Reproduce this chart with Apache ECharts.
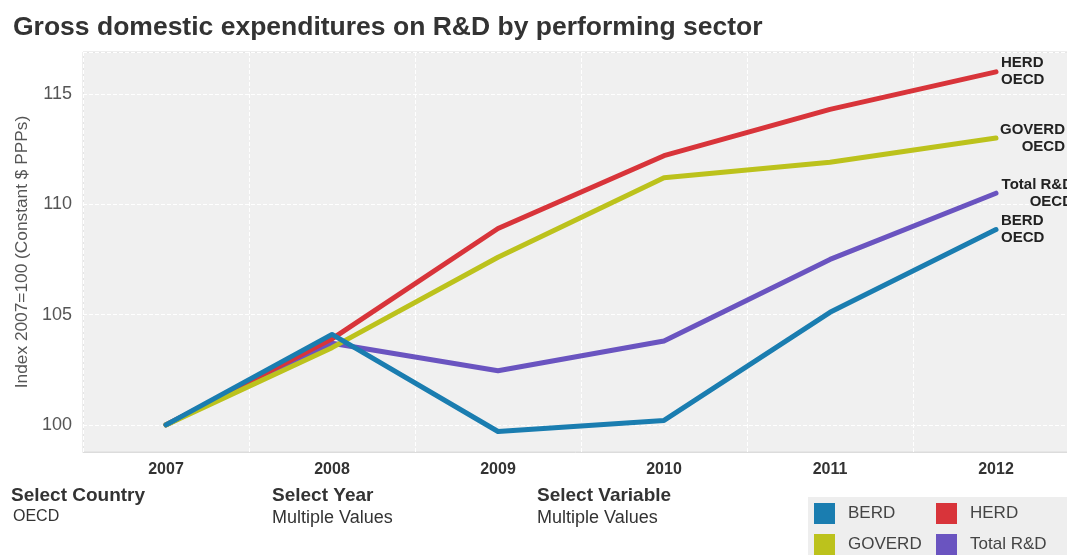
<!DOCTYPE html>
<html>
<head>
<meta charset="utf-8">
<script src="https://cdn.jsdelivr.net/npm/echarts@6/dist/echarts.min.js"></script>
<style>
html,body{margin:0;padding:0;background:#fff;}
#chart{width:1067px;height:555px;}
</style>
</head>
<body>
<div id="chart"></div>
<script>
const years = ['2007', '2008', '2009', '2010', '2011', '2012'];
const berd = [100, 104.1, 99.7, 100.2, 105.1, 108.85];
const herd = [100, 103.9, 108.9, 112.2, 114.3, 116.0];
const goverd = [100, 103.5, 107.6, 111.2, 111.9, 113.0];
const totalRD = [100, 103.7, 102.45, 103.8, 107.5, 110.5];
const yTicks = [100, 105, 110, 115];
const legendCol1 = ['BERD', 'GOVERD'];
const legendCol2 = ['HERD', 'Total R&D'];

const colors = {
  BERD: '#1a7db0',
  HERD: '#d8343a',
  GOVERD: '#bcc21c',
  'Total R&D': '#6a54c0'
};

const chart = echarts.init(document.getElementById('chart'));
const FONT = 'Liberation Sans, Arial, sans-serif';

function lineSeries(name, data, endText, align, offset) {
  return {
    name: name,
    type: 'line',
    data: data,
    showSymbol: false,
    symbol: 'none',
    lineStyle: { width: 5, color: colors[name], cap: 'round', join: 'round' },
    itemStyle: { color: colors[name] },
    emphasis: { disabled: true },
    endLabel: {
      show: true,
      formatter: endText,
      fontFamily: FONT,
      fontSize: 15,
      fontWeight: 'bold',
      color: '#222',
      lineHeight: 17,
      align: align,
      distance: 5,
      offset: offset
    }
  };
}

function legendCol(left, names) {
  return {
    left: left, top: 497,
    orient: 'vertical',
    padding: [6, 0, 0, 0],
    itemWidth: 21, itemHeight: 21, itemGap: 10,
    icon: 'rect',
    data: names,
    textStyle: { fontFamily: FONT, fontSize: 17, color: '#444', padding: [0, 0, 0, 8] }
  };
}

chart.setOption({
  backgroundColor: '#ffffff',
  animation: false,
  color: [colors['Total R&D'], colors.HERD, colors.GOVERD, colors.BERD],
  title: {
    text: 'Gross domestic expenditures on R&D by performing sector',
    left: 8,
    top: 9,
    textStyle: { fontFamily: FONT, fontSize: 26.5, fontWeight: 'bold', color: '#333' }
  },
  grid: {
    left: 83, top: 52, width: 996, height: 400,
    outerBoundsMode: 'none',
    containLabel: false,
    show: true, backgroundColor: '#f0f0f0', borderColor: '#dcdcdc', borderWidth: 1
  },
  legend: [legendCol(814, legendCol1), legendCol(936, legendCol2)],
  xAxis: {
    type: 'category',
    data: years,
    boundaryGap: true,
    axisLine: { show: true, lineStyle: { color: '#dcdcdc', width: 1 } },
    axisTick: { show: false },
    axisLabel: { fontFamily: FONT, fontSize: 16, fontWeight: 'bold', color: '#333', margin: 10 },
    splitLine: { show: true, lineStyle: { color: '#ffffff', type: 'dashed', width: 1 } }
  },
  yAxis: {
    type: 'value',
    min: 98.77,
    max: 116.9,
    splitNumber: 4,
    name: 'Index 2007=100 (Constant $ PPPs)',
    nameLocation: 'middle',
    nameGap: 43,
    nameTextStyle: { fontFamily: FONT, fontSize: 17.3, color: '#555' },
    axisLine: { show: false },
    axisTick: { show: false },
    axisLabel: {
      fontFamily: FONT, fontSize: 18, color: '#555', margin: 11,
      showMinLabel: false, showMaxLabel: false,
      formatter: function (v) { return yTicks.indexOf(v) >= 0 ? String(v) : ''; }
    },
    splitLine: { show: true, lineStyle: { color: '#ffffff', type: 'dashed', width: 1 } }
  },
  series: [
    lineSeries('Total R&D', totalRD, 'Total R&D\nOECD', 'right', [72, 0]),
    lineSeries('HERD', herd, 'HERD\nOECD', 'left', [0, 0]),
    lineSeries('GOVERD', goverd, 'GOVERD\nOECD', 'right', [64, 0]),
    lineSeries('BERD', berd, 'BERD\nOECD', 'left', [0, 0])
  ],
  graphic: [
    { type: 'rect', left: 808, top: 497, z: 0, shape: { width: 259, height: 58 }, style: { fill: '#eeeeee' } },
    { type: 'text', left: 11, top: 486, style: { text: 'Select Country', font: 'bold 19px ' + FONT, fill: '#333' } },
    { type: 'text', left: 13, top: 509, style: { text: 'OECD', font: '16px ' + FONT, fill: '#333' } },
    { type: 'text', left: 272, top: 486, style: { text: 'Select Year', font: 'bold 19px ' + FONT, fill: '#333' } },
    { type: 'text', left: 272, top: 509, style: { text: 'Multiple Values', font: '18px ' + FONT, fill: '#333' } },
    { type: 'text', left: 537, top: 486, style: { text: 'Select Variable', font: 'bold 19px ' + FONT, fill: '#333' } },
    { type: 'text', left: 537, top: 509, style: { text: 'Multiple Values', font: '18px ' + FONT, fill: '#333' } }
  ]
});
</script>
</body>
</html>
